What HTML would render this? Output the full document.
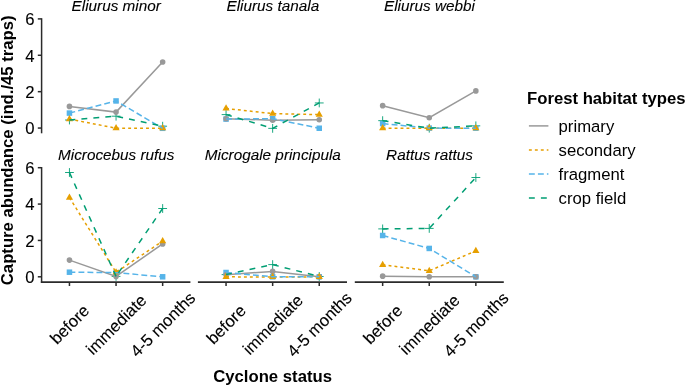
<!DOCTYPE html>
<html><head><meta charset="utf-8"><title>chart</title>
<style>
html,body{margin:0;padding:0;background:#fff;}
body{width:685px;height:386px;overflow:hidden;position:relative;font-family:"Liberation Sans",sans-serif;}
</style></head><body>
<svg width="685" height="386" viewBox="0 0 685 386" style="display:block;position:absolute;left:0;top:0;will-change:transform">
<rect width="685" height="386" fill="#ffffff"/>
<g stroke="#2b2b2b" stroke-width="1.5" fill="none">
<path d="M41.6 18.2 V133.3"/>
<path d="M41.6 167.0 V282.85"/>
<path d="M40.85 282.0 H190.4" stroke-width="1.75"/>
<path d="M197.9 282.0 H347.0" stroke-width="1.75"/>
<path d="M354.8 282.0 H503.8" stroke-width="1.75"/>
<path d="M37.8 128.05 H41.6"/>
<path d="M37.8 91.67 H41.6"/>
<path d="M37.8 55.28 H41.6"/>
<path d="M37.8 18.90 H41.6"/>
<path d="M37.8 276.80 H41.6"/>
<path d="M37.8 240.43 H41.6"/>
<path d="M37.8 204.07 H41.6"/>
<path d="M37.8 167.70 H41.6"/>
<path d="M69.45 282.0 V286.0"/>
<path d="M116.05 282.0 V286.0"/>
<path d="M162.65 282.0 V286.0"/>
<path d="M226.05 282.0 V286.0"/>
<path d="M272.65 282.0 V286.0"/>
<path d="M319.25 282.0 V286.0"/>
<path d="M382.65 282.0 V286.0"/>
<path d="M429.25 282.0 V286.0"/>
<path d="M475.85 282.0 V286.0"/>
</g>
<g font-family="Liberation Sans, sans-serif" font-size="16.7" fill="#000" stroke="#000" stroke-width="0.1" text-anchor="end">
<text x="34.6" y="134">0</text>
<text x="34.6" y="98">2</text>
<text x="34.6" y="62">4</text>
<text x="34.6" y="25">6</text>
<text x="34.6" y="283">0</text>
<text x="34.6" y="247">2</text>
<text x="34.6" y="210">4</text>
<text x="34.6" y="174">6</text>
</g>
<g font-family="Liberation Sans, sans-serif" font-style="italic" font-size="15.3" fill="#000" stroke="#000" stroke-width="0.1" text-anchor="middle">
<text x="116.25" y="11.1">Eliurus minor</text>
<text x="272.85" y="11.1">Eliurus tanala</text>
<text x="429.45" y="11.1">Eliurus webbi</text>
<text x="116.25" y="159.8">Microcebus rufus</text>
<text x="272.85" y="159.8">Microgale principula</text>
<text x="429.45" y="159.8">Rattus rattus</text>
</g>
<path d="M65.05 120.00 H73.85 M69.45 115.60 V124.40" stroke="#009E73" stroke-width="0.9" fill="none"/>
<path d="M111.65 116.20 H120.45 M116.05 111.80 V120.60" stroke="#009E73" stroke-width="0.9" fill="none"/>
<path d="M158.25 126.20 H167.05 M162.65 121.80 V130.60" stroke="#009E73" stroke-width="0.9" fill="none"/>
<rect x="66.70" y="110.35" width="5.50" height="5.50" fill="#56B4E9"/>
<rect x="113.30" y="98.20" width="5.50" height="5.50" fill="#56B4E9"/>
<rect x="159.90" y="125.55" width="5.50" height="5.50" fill="#56B4E9"/>
<circle cx="69.45" cy="106.40" r="2.8" fill="#999999"/>
<circle cx="116.05" cy="112.10" r="2.8" fill="#999999"/>
<circle cx="162.65" cy="61.95" r="2.8" fill="#999999"/>
<path d="M69.45 114.95 L73.04 121.17 L65.86 121.17 Z" fill="#E69F00"/>
<path d="M116.05 124.05 L119.64 130.27 L112.46 130.27 Z" fill="#E69F00"/>
<path d="M162.65 124.10 L166.24 130.32 L159.06 130.32 Z" fill="#E69F00"/>
<polyline points="69.45,106.40 116.05,112.10 162.65,61.95" fill="none" stroke="#999999" stroke-width="1.5"/>
<polyline points="69.45,119.10 116.05,128.20 162.65,128.25" fill="none" stroke="#E69F00" stroke-width="1.5" stroke-dasharray="2.9 3.06"/>
<polyline points="69.45,113.10 116.05,100.95 162.65,128.30" fill="none" stroke="#56B4E9" stroke-width="1.5" stroke-dasharray="5.9 3.1"/>
<polyline points="69.45,120.00 116.05,116.20 162.65,126.20" fill="none" stroke="#009E73" stroke-width="1.5" stroke-dasharray="5.9 6.1"/>
<path d="M221.65 114.60 H230.45 M226.05 110.20 V119.00" stroke="#009E73" stroke-width="0.9" fill="none"/>
<path d="M268.25 128.35 H277.05 M272.65 123.95 V132.75" stroke="#009E73" stroke-width="0.9" fill="none"/>
<path d="M314.85 102.95 H323.65 M319.25 98.55 V107.35" stroke="#009E73" stroke-width="0.9" fill="none"/>
<rect x="223.30" y="116.35" width="5.50" height="5.50" fill="#56B4E9"/>
<rect x="269.90" y="115.95" width="5.50" height="5.50" fill="#56B4E9"/>
<rect x="316.50" y="125.50" width="5.50" height="5.50" fill="#56B4E9"/>
<circle cx="226.05" cy="118.70" r="2.8" fill="#999999"/>
<circle cx="272.65" cy="120.20" r="2.8" fill="#999999"/>
<circle cx="319.25" cy="119.70" r="2.8" fill="#999999"/>
<path d="M226.05 104.35 L229.64 110.58 L222.46 110.58 Z" fill="#E69F00"/>
<path d="M272.65 109.45 L276.24 115.67 L269.06 115.67 Z" fill="#E69F00"/>
<path d="M319.25 110.50 L322.84 116.73 L315.66 116.73 Z" fill="#E69F00"/>
<polyline points="226.05,118.70 272.65,120.20 319.25,119.70" fill="none" stroke="#999999" stroke-width="1.5"/>
<polyline points="226.05,108.50 272.65,113.60 319.25,114.65" fill="none" stroke="#E69F00" stroke-width="1.5" stroke-dasharray="2.9 3.06"/>
<polyline points="226.05,119.10 272.65,118.70 319.25,128.25" fill="none" stroke="#56B4E9" stroke-width="1.5" stroke-dasharray="5.9 3.1"/>
<polyline points="226.05,114.60 272.65,128.35 319.25,102.95" fill="none" stroke="#009E73" stroke-width="1.5" stroke-dasharray="5.9 6.1"/>
<path d="M378.25 120.65 H387.05 M382.65 116.25 V125.05" stroke="#009E73" stroke-width="0.9" fill="none"/>
<path d="M424.85 128.20 H433.65 M429.25 123.80 V132.60" stroke="#009E73" stroke-width="0.9" fill="none"/>
<path d="M471.45 125.85 H480.25 M475.85 121.45 V130.25" stroke="#009E73" stroke-width="0.9" fill="none"/>
<rect x="379.90" y="120.85" width="5.50" height="5.50" fill="#56B4E9"/>
<rect x="426.50" y="125.35" width="5.50" height="5.50" fill="#56B4E9"/>
<rect x="473.10" y="125.45" width="5.50" height="5.50" fill="#56B4E9"/>
<circle cx="382.65" cy="105.65" r="2.8" fill="#999999"/>
<circle cx="429.25" cy="117.70" r="2.8" fill="#999999"/>
<circle cx="475.85" cy="90.90" r="2.8" fill="#999999"/>
<path d="M382.65 124.05 L386.24 130.27 L379.06 130.27 Z" fill="#E69F00"/>
<path d="M429.25 124.05 L432.84 130.27 L425.66 130.27 Z" fill="#E69F00"/>
<path d="M475.85 124.05 L479.44 130.27 L472.26 130.27 Z" fill="#E69F00"/>
<polyline points="382.65,105.65 429.25,117.70 475.85,90.90" fill="none" stroke="#999999" stroke-width="1.5"/>
<polyline points="382.65,128.20 429.25,128.20 475.85,128.20" fill="none" stroke="#E69F00" stroke-width="1.5" stroke-dasharray="2.9 3.06"/>
<polyline points="382.65,123.60 429.25,128.10 475.85,128.20" fill="none" stroke="#56B4E9" stroke-width="1.5" stroke-dasharray="5.9 3.1"/>
<polyline points="382.65,120.65 429.25,128.20 475.85,125.85" fill="none" stroke="#009E73" stroke-width="1.5" stroke-dasharray="5.9 6.1"/>
<path d="M65.05 172.50 H73.85 M69.45 168.10 V176.90" stroke="#009E73" stroke-width="0.9" fill="none"/>
<path d="M111.65 276.40 H120.45 M116.05 272.00 V280.80" stroke="#009E73" stroke-width="0.9" fill="none"/>
<path d="M158.25 208.50 H167.05 M162.65 204.10 V212.90" stroke="#009E73" stroke-width="0.9" fill="none"/>
<rect x="66.70" y="269.45" width="5.50" height="5.50" fill="#56B4E9"/>
<rect x="113.30" y="269.90" width="5.50" height="5.50" fill="#56B4E9"/>
<rect x="159.90" y="274.05" width="5.50" height="5.50" fill="#56B4E9"/>
<circle cx="69.45" cy="260.10" r="2.8" fill="#999999"/>
<circle cx="116.05" cy="276.40" r="2.8" fill="#999999"/>
<circle cx="162.65" cy="243.90" r="2.8" fill="#999999"/>
<path d="M69.45 193.45 L73.04 199.67 L65.86 199.67 Z" fill="#E69F00"/>
<path d="M116.05 268.15 L119.64 274.38 L112.46 274.38 Z" fill="#E69F00"/>
<path d="M162.65 237.00 L166.24 243.22 L159.06 243.22 Z" fill="#E69F00"/>
<polyline points="69.45,260.10 116.05,276.40 162.65,243.90" fill="none" stroke="#999999" stroke-width="1.5"/>
<path d="M69.45 197.60 L116.05 272.30" fill="none" stroke="#E69F00" stroke-width="1.5" stroke-dasharray="2.9 3.06"/>
<path d="M116.05 272.30 L162.65 241.15" fill="none" stroke="#E69F00" stroke-width="1.5" stroke-dasharray="2.9 3.06" stroke-dashoffset="4.9"/>
<polyline points="69.45,272.20 116.05,272.65 162.65,276.80" fill="none" stroke="#56B4E9" stroke-width="1.5" stroke-dasharray="5.9 3.1"/>
<path d="M69.45 172.50 L116.05 276.40" fill="none" stroke="#009E73" stroke-width="1.5" stroke-dasharray="5.9 6.1"/>
<path d="M116.05 276.40 L162.65 208.50" fill="none" stroke="#009E73" stroke-width="1.5" stroke-dasharray="5.9 6.1" stroke-dashoffset="7.6"/>
<path d="M221.65 274.60 H230.45 M226.05 270.20 V279.00" stroke="#009E73" stroke-width="0.9" fill="none"/>
<path d="M268.25 264.60 H277.05 M272.65 260.20 V269.00" stroke="#009E73" stroke-width="0.9" fill="none"/>
<path d="M314.85 276.50 H323.65 M319.25 272.10 V280.90" stroke="#009E73" stroke-width="0.9" fill="none"/>
<rect x="223.30" y="269.75" width="5.50" height="5.50" fill="#56B4E9"/>
<rect x="269.90" y="274.05" width="5.50" height="5.50" fill="#56B4E9"/>
<rect x="316.50" y="274.05" width="5.50" height="5.50" fill="#56B4E9"/>
<circle cx="226.05" cy="274.75" r="2.8" fill="#999999"/>
<circle cx="272.65" cy="271.40" r="2.8" fill="#999999"/>
<circle cx="319.25" cy="276.70" r="2.8" fill="#999999"/>
<path d="M226.05 272.70 L229.64 278.93 L222.46 278.93 Z" fill="#E69F00"/>
<path d="M272.65 272.80 L276.24 279.02 L269.06 279.02 Z" fill="#E69F00"/>
<path d="M319.25 272.70 L322.84 278.93 L315.66 278.93 Z" fill="#E69F00"/>
<polyline points="226.05,274.75 272.65,271.40 319.25,276.70" fill="none" stroke="#999999" stroke-width="1.5"/>
<polyline points="226.05,276.85 272.65,276.95 319.25,276.85" fill="none" stroke="#E69F00" stroke-width="1.5" stroke-dasharray="2.9 3.06"/>
<polyline points="226.05,272.50 272.65,276.80 319.25,276.80" fill="none" stroke="#56B4E9" stroke-width="1.5" stroke-dasharray="5.9 3.1"/>
<polyline points="226.05,274.60 272.65,264.60 319.25,276.50" fill="none" stroke="#009E73" stroke-width="1.5" stroke-dasharray="5.9 6.1"/>
<path d="M378.25 228.90 H387.05 M382.65 224.50 V233.30" stroke="#009E73" stroke-width="0.9" fill="none"/>
<path d="M424.85 228.40 H433.65 M429.25 224.00 V232.80" stroke="#009E73" stroke-width="0.9" fill="none"/>
<path d="M471.45 177.50 H480.25 M475.85 173.10 V181.90" stroke="#009E73" stroke-width="0.9" fill="none"/>
<rect x="379.90" y="232.75" width="5.50" height="5.50" fill="#56B4E9"/>
<rect x="426.50" y="245.70" width="5.50" height="5.50" fill="#56B4E9"/>
<rect x="473.10" y="274.05" width="5.50" height="5.50" fill="#56B4E9"/>
<circle cx="382.65" cy="276.15" r="2.8" fill="#999999"/>
<circle cx="429.25" cy="276.70" r="2.8" fill="#999999"/>
<circle cx="475.85" cy="276.80" r="2.8" fill="#999999"/>
<path d="M382.65 260.65 L386.24 266.88 L379.06 266.88 Z" fill="#E69F00"/>
<path d="M429.25 266.65 L432.84 272.88 L425.66 272.88 Z" fill="#E69F00"/>
<path d="M475.85 246.80 L479.44 253.02 L472.26 253.02 Z" fill="#E69F00"/>
<polyline points="382.65,276.15 429.25,276.70 475.85,276.80" fill="none" stroke="#999999" stroke-width="1.5"/>
<polyline points="382.65,264.80 429.25,270.80 475.85,250.95" fill="none" stroke="#E69F00" stroke-width="1.5" stroke-dasharray="2.9 3.06"/>
<polyline points="382.65,235.50 429.25,248.45 475.85,276.80" fill="none" stroke="#56B4E9" stroke-width="1.5" stroke-dasharray="5.9 3.1"/>
<path d="M382.65 228.90 L429.25 228.40" fill="none" stroke="#009E73" stroke-width="1.5" stroke-dasharray="5.9 6.1"/>
<path d="M429.25 228.40 L475.85 177.50" fill="none" stroke="#009E73" stroke-width="1.5" stroke-dasharray="5.9 6.1" stroke-dashoffset="11.2"/>
<g font-family="Liberation Sans, sans-serif" font-size="16.7" fill="#000" stroke="#000" stroke-width="0.1" text-anchor="middle">
<text transform="translate(70.15 325.00) rotate(-45)" x="0" y="5">before</text>
<text transform="translate(116.75 325.00) rotate(-45)" x="0" y="5">immediate</text>
<text transform="translate(163.35 325.00) rotate(-45)" x="0" y="5">4-5 months</text>
<text transform="translate(226.75 325.00) rotate(-45)" x="0" y="5">before</text>
<text transform="translate(273.35 325.00) rotate(-45)" x="0" y="5">immediate</text>
<text transform="translate(319.95 325.00) rotate(-45)" x="0" y="5">4-5 months</text>
<text transform="translate(383.35 325.00) rotate(-45)" x="0" y="5">before</text>
<text transform="translate(429.95 325.00) rotate(-45)" x="0" y="5">immediate</text>
<text transform="translate(476.55 325.00) rotate(-45)" x="0" y="5">4-5 months</text>
</g>
<text font-family="Liberation Sans, sans-serif" font-weight="bold" font-size="16.7" fill="#000" text-anchor="middle" x="272.6" y="381.5">Cyclone status</text>
<text font-family="Liberation Sans, sans-serif" font-weight="bold" font-size="16.7" fill="#000" text-anchor="middle" transform="translate(13.1 150.3) rotate(-90)">Capture abundance (ind./45 traps)</text>
<text font-family="Liberation Sans, sans-serif" font-weight="bold" font-size="16.7" fill="#000" x="527.0" y="104.0">Forest habitat types</text>
<path d="M528.9 125.9 H548.4" stroke="#999999" stroke-width="1.5" fill="none"/>
<text font-family="Liberation Sans, sans-serif" font-size="16.7" fill="#000" x="558.6" y="132.2">primary</text>
<path d="M528.9 150.0 H548.4" stroke="#E69F00" stroke-width="1.5" fill="none" stroke-dasharray="2.9 3.06"/>
<text font-family="Liberation Sans, sans-serif" font-size="16.7" fill="#000" x="558.6" y="156.2">secondary</text>
<path d="M528.9 174.0 H548.4" stroke="#56B4E9" stroke-width="1.5" fill="none" stroke-dasharray="5.9 3.1"/>
<text font-family="Liberation Sans, sans-serif" font-size="16.7" fill="#000" x="558.6" y="180.2">fragment</text>
<path d="M528.9 198.0 H548.4" stroke="#009E73" stroke-width="1.5" fill="none" stroke-dasharray="5.9 6.1"/>
<text font-family="Liberation Sans, sans-serif" font-size="16.7" fill="#000" x="558.6" y="204.2">crop field</text>
</svg>
</body></html>
